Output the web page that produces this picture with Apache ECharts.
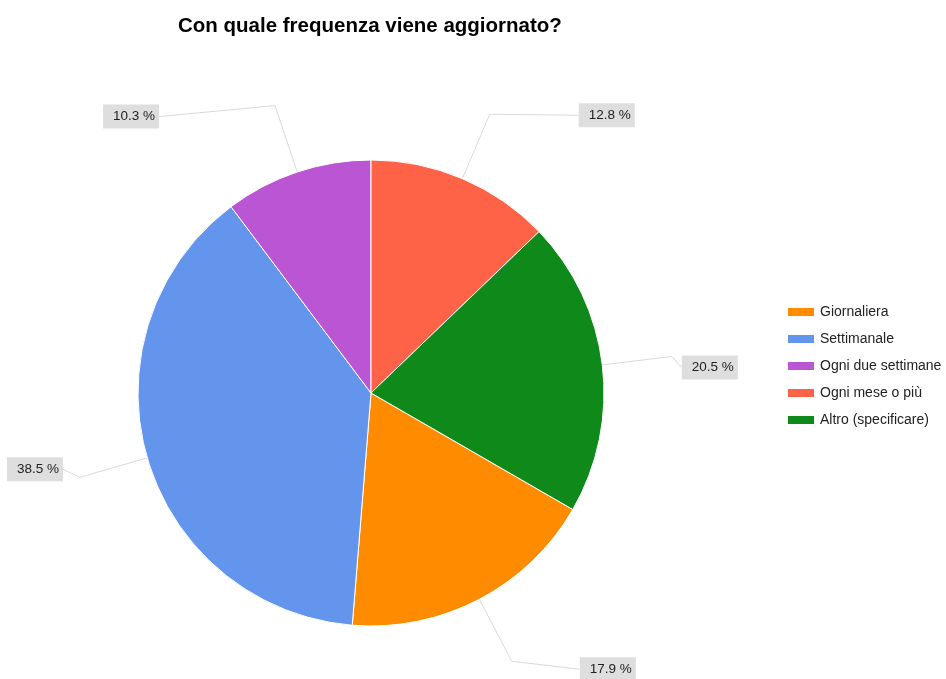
<!DOCTYPE html>
<html>
<head>
<meta charset="utf-8">
<title>Con quale frequenza viene aggiornato?</title>
<script src="https://cdn.jsdelivr.net/npm/echarts@6/dist/echarts.min.js"></script>
<style>
  html, body { margin: 0; padding: 0; background: #fff; }
  #chart { width: 946px; height: 679px; }
</style>
</head>
<body>
<div id="chart"></div>
<script>
// Survey answers: how often it gets updated (number of respondents)
const categories = ['Giornaliera', 'Settimanale', 'Ogni due settimane', 'Ogni mese o più', 'Altro (specificare)'];
const counts = [7, 15, 4, 5, 8];

// Slice colours, in category order
const colors = ['#ff8c00', '#6495ed', '#ba55d3', '#ff6347', '#0f8a1a'];
// Horizontal leader segment length per slice
const leaderTail = [68, 17, 116, 89, 10];
// Vertical nudge of each value tag away from its leader elbow
const tagNudge = [8, -8, 11, 1, 11];

const FONT = 'Liberation Sans, Arial, sans-serif';
const chart = echarts.init(document.getElementById('chart'));

const data = categories.map((name, i) => ({
  name: name,
  value: counts[i],
  labelLine: { length: 70, length2: leaderTail[i] }
}));

chart.setOption({
  animation: false,
  color: colors,
  title: {
    text: 'Con quale frequenza viene aggiornato?',
    left: 173,
    top: 11,
    textStyle: {
      fontFamily: FONT,
      fontSize: 20.5,
      fontWeight: 'bold',
      color: '#000'
    }
  },
  legend: {
    orient: 'vertical',
    left: 786,
    top: 305,
    padding: 0,
    icon: 'rect',
    itemWidth: 28,
    itemHeight: 10,
    itemGap: 13,
    selectedMode: false,
    data: categories,
    textStyle: {
      fontFamily: FONT,
      fontSize: 14,
      lineHeight: 14,
      color: '#222'
    }
  },
  series: [{
    type: 'pie',
    center: [371, 393],
    radius: 233,
    startAngle: -30,
    clockwise: true,
    avoidLabelOverlap: false,
    percentPrecision: 1,
    itemStyle: { borderColor: '#fff', borderWidth: 1 },
    emphasis: { disabled: true },
    label: {
      show: true,
      position: 'outside',
      formatter: '{d} %',
      distanceToLabelLine: 0,
      fontFamily: FONT,
      fontSize: 13.5,
      lineHeight: 14,
      color: '#222',
      backgroundColor: '#dedede',
      padding: [5, 4, 5, 10]
    },
    labelLine: {
      show: true,
      smooth: false,
      lineStyle: { color: '#d9d9d9', width: 1 }
    },
    // Shift each tag vertically and let the last leader segment follow it
    labelLayout: function (params) {
      const dy = tagNudge[params.dataIndex];
      const pts = (params.labelLinePoints || []).map(p => [p[0], p[1]]);
      if (pts.length) {
        const last = pts[pts.length - 1];
        last[1] += dy;
      }
      return { dy: dy, labelLinePoints: pts };
    },
    data: data
  }]
});
</script>
</body>
</html>
